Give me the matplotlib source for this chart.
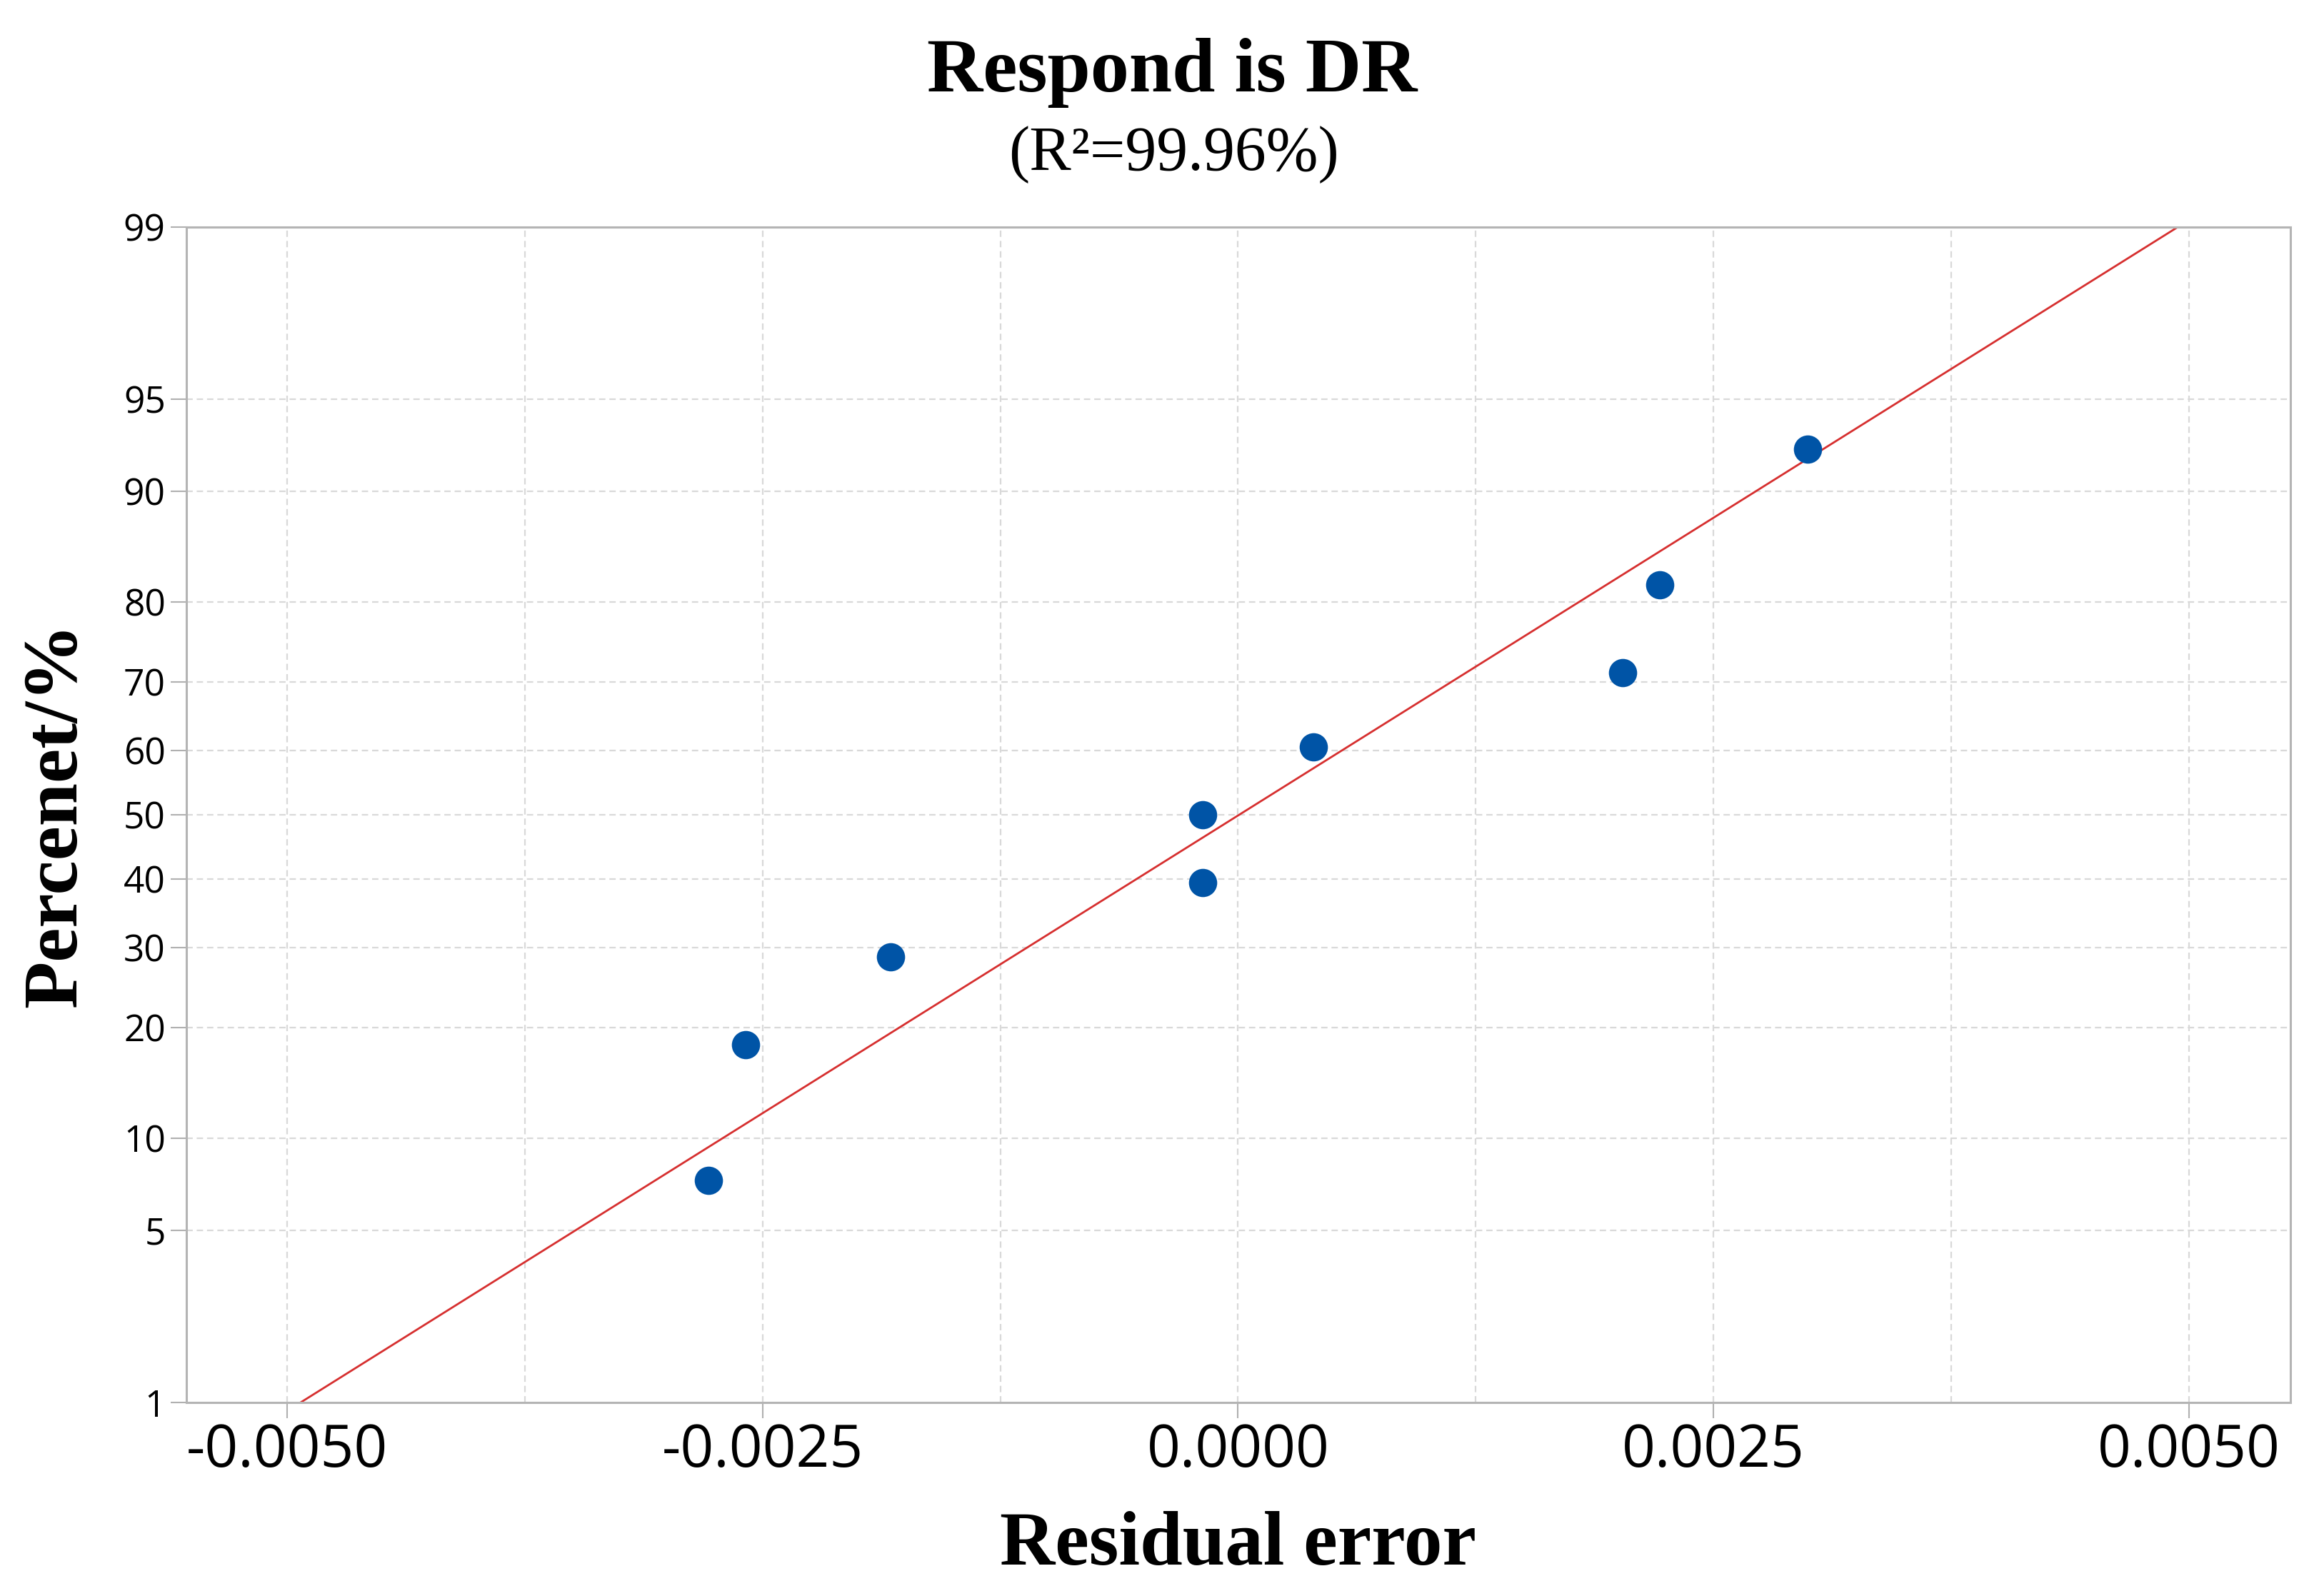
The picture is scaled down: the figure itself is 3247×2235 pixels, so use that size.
import matplotlib
matplotlib.use("Agg")
import matplotlib.pyplot as plt
import numpy as np
from statistics import NormalDist

residuals = [-0.002784, -0.002590, -0.001828, -0.000187, -0.000187,
             0.000396, 0.002022, 0.002216, 0.002995]
percents = [7.4, 18.1, 28.7, 39.4, 50.0, 60.6, 71.3, 81.9, 92.6]

y_ticks = [1, 5, 10, 20, 30, 40, 50, 60, 70, 80, 90, 95, 99]
x_ticks = [-0.0050, -0.0025, 0.0000, 0.0025, 0.0050]
x_grid = [-0.005, -0.00375, -0.0025, -0.00125, 0.0, 0.00125, 0.0025,
          0.00375, 0.005]

plt.rcParams["axes.unicode_minus"] = False

nd = NormalDist()


def probit(p):
    return nd.inv_cdf(p / 100.0)


fig = plt.figure(figsize=(32.47, 22.35), dpi=100)
ax = fig.add_axes([0.08038, 0.12125, 0.9073, 0.73647])

grid_kw = dict(color="#D9D9D9", lw=1.6, ls=(0, (4, 2.5)), zorder=0)
for xv in x_grid:
    ax.axvline(xv, **grid_kw)
for yv in y_ticks[1:-1]:
    ax.axhline(probit(yv), **grid_kw)

# fitted normal line from the residuals' mean and sd
mu = np.mean(residuals)
sd = np.std(residuals, ddof=1)
zz = np.array([probit(y_ticks[0]), probit(y_ticks[-1])])
ax.plot(mu + sd * zz, zz, color="#D62F2F", lw=2.0, zorder=2)

ax.plot(residuals, [probit(p) for p in percents], "o", color="#0054A6",
        markersize=28.5, mew=0, zorder=3)

ax.set_xlim(-0.005529, 0.005533)
ax.set_ylim(probit(1), probit(99))
ax.set_xticks(x_ticks)
ax.set_xticklabels(["%.4f" % v for v in x_ticks], fontsize=59,
                   family="Open Sans")
ax.set_yticks([probit(v) for v in y_ticks])
ax.set_yticklabels([str(v) for v in y_ticks], fontsize=37,
                   family="Open Sans")
ax.tick_params(axis="both", length=16, width=1.5, color="#B0B0B0")
ax.tick_params(axis="x", pad=4)
ax.tick_params(axis="y", pad=5)
for sp in ax.spines.values():
    sp.set_color("#B4B4B4")
    sp.set_linewidth(2.2)

fig.text(1641 / 3247, 1 - 128 / 2235, "Respond is DR", ha="center",
         va="baseline", fontsize=78, fontweight="bold",
         family="Liberation Serif")
fig.text(1644 / 3247, 1 - 238 / 2235, "(R\u00b2=99.96%)", ha="center",
         va="baseline", fontsize=63, family="Liberation Serif")
fig.text(1733 / 3247, 1 - 2191 / 2235, "Residual error", ha="center",
         va="baseline", fontsize=77, fontweight="bold",
         family="Liberation Serif")
fig.text(80 / 3247, 1 - 1141 / 2235, "Percenet/%", ha="center",
         va="center", rotation=90, fontsize=78, fontweight="bold",
         family="Liberation Serif")

fig.savefig("out.png", dpi=100, facecolor="white")
